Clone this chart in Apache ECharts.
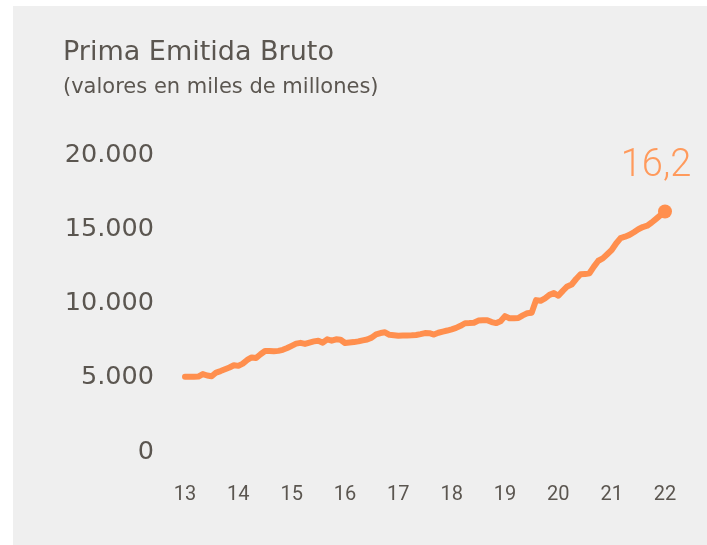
<!DOCTYPE html>
<html>
<head>
<meta charset="utf-8">
<style>
  html, body { margin: 0; padding: 0; background: #ffffff; }
  #chart { width: 707px; height: 545px; }
</style>
<script src="https://cdn.jsdelivr.net/npm/echarts@6/dist/echarts.min.js"></script>
</head>
<body>
<div id="chart"></div>
<script>
// años mostrados en el eje x
const years = ["13", "14", "15", "16", "17", "18", "19", "20", "21", "22"];

// prima emitida bruto, mensual (ene-13 a ene-22), miles de millones
const prima = [
  5070, 5070, 5060, 5080, 5250, 5150, 5100, 5350, 5450, 5570, 5690, 5840,
  5800, 5950, 6200, 6370, 6330, 6580, 6800, 6800, 6790, 6810, 6880, 7000,
  7150, 7300, 7350, 7280, 7370, 7450, 7490, 7360, 7590, 7500, 7590, 7560,
  7340, 7370, 7400, 7450, 7520, 7580, 7700, 7920, 8010, 8060, 7890, 7860,
  7830, 7840, 7850, 7860, 7880, 7940, 8010, 8000, 7910, 8030, 8110, 8180,
  8260, 8360, 8500, 8670, 8680, 8700, 8850, 8870, 8880, 8750, 8680, 8800,
  9150, 9010, 9000, 9020, 9200, 9340, 9380, 10230, 10180, 10350, 10580, 10700,
  10520, 10850, 11150, 11280, 11650, 11970, 11980, 12040, 12480, 12880, 13040, 13320,
  13600, 14040, 14400, 14500, 14620, 14800, 15000, 15150, 15240, 15450, 15700, 15950,
  16200
];

const lastLabel = "16,2";

// una categoría por mes, etiqueta solo en enero
const months = prima.map((v, i) => (i % 12 === 0 ? years[i / 12] : ""));

const orange = "#ff8f4e";
const textColor = "#5b5650";

const chart = echarts.init(document.getElementById("chart"));

const seriesData = prima.map((v, i) => {
  if (i !== prima.length - 1) return v;
  return {
    value: v,
    symbol: "circle",
    symbolSize: 14,
    itemStyle: { color: orange },
    label: {
      show: true,
      formatter: lastLabel,
      position: "top",
      offset: [-9, -14],
      color: "#ff9a5c",
      fontSize: 38,
      fontWeight: 300,
      fontFamily: "Roboto"
    }
  };
});

chart.setOption({
  backgroundColor: "#ffffff",
  animation: false,
  graphic: [
    {
      type: "rect",
      z: -10,
      shape: { x: 13, y: 6, width: 720, height: 560 },
      style: { fill: "#efefef" }
    },
    {
      type: "text",
      left: 63,
      top: 39,
      style: {
        text: "Prima Emitida Bruto",
        fill: textColor,
        font: "27px 'DejaVu Sans'"
      }
    },
    {
      type: "text",
      left: 63,
      top: 77,
      style: {
        text: "(valores en miles de millones)",
        fill: textColor,
        font: "21px 'DejaVu Sans'"
      }
    }
  ],
  grid: { left: 185, right: 42, top: 155, bottom: 93 },
  xAxis: {
    type: "category",
    data: months,
    boundaryGap: false,
    axisLine: { show: false },
    axisTick: { show: false },
    axisLabel: {
      interval: 0,
      margin: 33,
      color: textColor,
      fontSize: 20,
      fontFamily: "Roboto"
    }
  },
  yAxis: {
    type: "value",
    min: 0,
    max: 20000,
    interval: 5000,
    splitLine: { show: false },
    axisLine: { show: false },
    axisTick: { show: false },
    axisLabel: {
      margin: 31,
      color: textColor,
      fontSize: 25.5,
      fontFamily: "DejaVu Sans",
      formatter: (v) => v.toLocaleString("de-DE")
    }
  },
  series: [
    {
      type: "line",
      data: seriesData,
      showSymbol: true,
      symbol: "none",
      lineStyle: { color: orange, width: 6, join: "round", cap: "round" },
      itemStyle: { color: orange }
    }
  ]
});
</script>
</body>
</html>
